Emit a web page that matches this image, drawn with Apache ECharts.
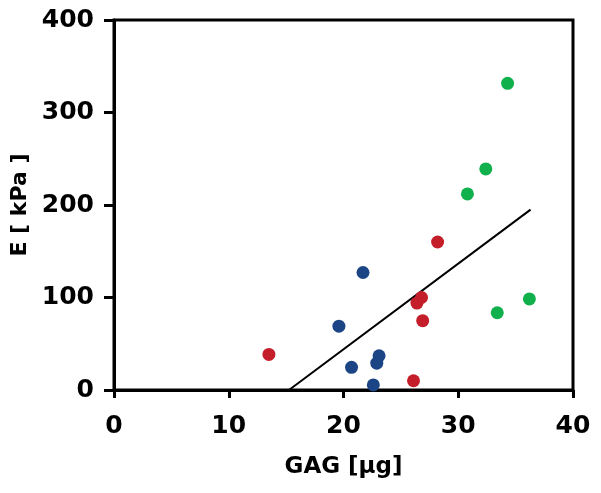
<!DOCTYPE html>
<html><head><meta charset="utf-8">
<script src="https://cdn.jsdelivr.net/npm/echarts@6/dist/echarts.min.js"></script>
<style>html,body{margin:0;padding:0;background:#fff}#c{width:601px;height:493px}</style>
</head><body><div id="c"></div>
<script>
const blueX = [21.7, 19.6, 23.1, 22.9, 20.7, 22.6];
const blueY = [127, 69, 37, 29, 24.5, 5.5];
const redX = [13.5, 28.2, 26.8, 26.4, 26.9, 26.1];
const redY = [38.5, 160, 100, 94, 75, 10];
const greenX = [34.3, 32.4, 30.8, 36.2, 33.4];
const greenY = [331.5, 239, 212, 98.5, 83.5];
const fitX = [15.25, 36.3];
const fitY = [0, 195];
const xTicks = [0, 10, 20, 30, 40];
const yTicks = [0, 100, 200, 300, 400];

const zip = (a, b) => a.map((v, i) => [v, b[i]]);
const font = 'DejaVu Sans';
const chart = echarts.init(document.getElementById('c'));
chart.setOption({
  animation: false,
  grid: {left: 114, right: 28, top: 20, bottom: 103, show: true, borderWidth: 3, borderColor: '#000', backgroundColor: 'transparent'},
  xAxis: {
    type: 'value', min: xTicks[0], max: xTicks[xTicks.length - 1], interval: 10,
    name: 'GAG [μg]', nameLocation: 'middle', nameGap: 66,
    nameTextStyle: {fontFamily: font, fontWeight: 'bold', fontSize: 23, color: '#000'},
    axisLine: {lineStyle: {color: '#000', width: 3}},
    axisTick: {show: true, length: 8, lineStyle: {color: '#000', width: 3}},
    axisLabel: {margin: 24, fontFamily: font, fontWeight: 'bold', fontSize: 25, color: '#000'},
    splitLine: {show: false}
  },
  yAxis: {
    type: 'value', min: yTicks[0], max: yTicks[yTicks.length - 1], interval: 100,
    name: 'E [ kPa ]', nameLocation: 'middle', nameGap: 82, nameRotate: 90,
    nameTextStyle: {fontFamily: font, fontWeight: 'bold', fontSize: 22, color: '#000'},
    axisLine: {lineStyle: {color: '#000', width: 3}},
    axisTick: {show: true, length: 10, lineStyle: {color: '#000', width: 3}},
    axisLabel: {margin: 20, fontFamily: font, fontWeight: 'bold', fontSize: 25, color: '#000'},
    splitLine: {show: false}
  },
  series: [
    {type: 'line', data: zip(fitX, fitY), symbol: 'none', lineStyle: {color: '#000', width: 2}, z: 1},
    {type: 'scatter', data: zip(blueX, blueY), symbolSize: 13, itemStyle: {color: '#1b4584', opacity: 1}},
    {type: 'scatter', data: zip(redX, redY), symbolSize: 13, itemStyle: {color: '#c41e2a', opacity: 1}},
    {type: 'scatter', data: zip(greenX, greenY), symbolSize: 13, itemStyle: {color: '#10b04c', opacity: 1}}
  ]
});
</script></body></html>
